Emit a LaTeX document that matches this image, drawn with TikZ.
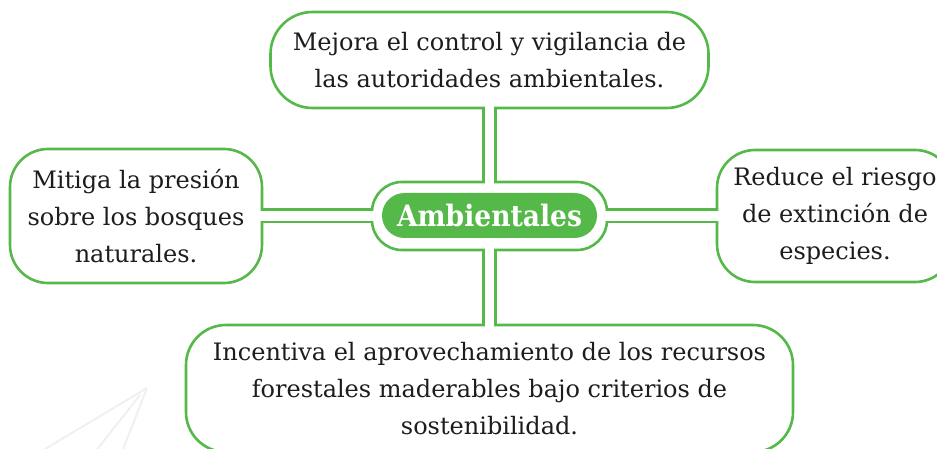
\documentclass[tikz,border=0pt]{standalone}
\usepackage{fontspec}
\setmainfont{DejaVu Serif}
\newfontfamily\bodyfont{DejaVu Serif}
\newfontfamily\headfont[FakeStretch=0.9]{DejaVu Serif}
\definecolor{leaf}{RGB}{84,185,72}
\definecolor{ink}{RGB}{30,28,29}
\begin{document}
\begin{tikzpicture}[x=1pt,y=-1pt,
  box/.style={draw=leaf, line width=2.6pt, fill=white, rectangle, outer sep=0pt,
    inner sep=0pt, align=center, text=ink, font=\bodyfont\fontsize{24}{37}\selectfont},
  link/.style={draw=leaf, line width=15pt},
  gap/.style={draw=white, line width=9.6pt, shorten <=-3pt, shorten >=-3pt},
  core/.style={fill=leaf, rectangle, rounded corners=22.5pt, outer sep=0pt, inner sep=0pt,
    text=white, font=\headfont\bfseries\fontsize{29.5}{32}\selectfont}
]
\useasboundingbox (0,0) rectangle (937,449);
\clip (0,0) rectangle (937,449);
% faint watermark lines
\draw[black!6, line width=2pt] (147,388) -- (40,452) (147,388) -- (122,452) (140,395) -- (95,452);
% nodes
\node[box, rounded corners=42pt, minimum width=438pt, minimum height=96pt] (top) at (489.5,60)
  {Mejora el control y vigilancia de\\las autoridades ambientales.};
\node[box, rounded corners=38pt, minimum width=252pt, minimum height=134pt] (left) at (136,216)
  {Mitiga la presión\\sobre los bosques\\naturales.};
\node[box, rounded corners=38pt, minimum width=236pt, minimum height=132pt] (right) at (835,216)
  {Reduce el riesgo\\de extinción de\\especies.};
\node[box, rounded corners=40pt, minimum width=607pt, minimum height=127pt] (bottom) at (489.5,388.5)
  {Incentiva el aprovechamiento de los recursos\\forestales maderables bajo criterios de\\sostenibilidad.};
\node[box, rounded corners=30pt, minimum width=235pt, minimum height=68pt] (ctr) at (489.5,216) {};
% connectors
\foreach \a/\b in {top.south/ctr.north, left.east/ctr.west, ctr.east/right.west, ctr.south/bottom.north}{
  \draw[link] (\a) -- (\b);
  \draw[gap] (\a) -- (\b);
}
\node[core, minimum width=215pt, minimum height=45pt] (core) at (489.5,215.5) {Ambientales};
\end{tikzpicture}
\end{document}
